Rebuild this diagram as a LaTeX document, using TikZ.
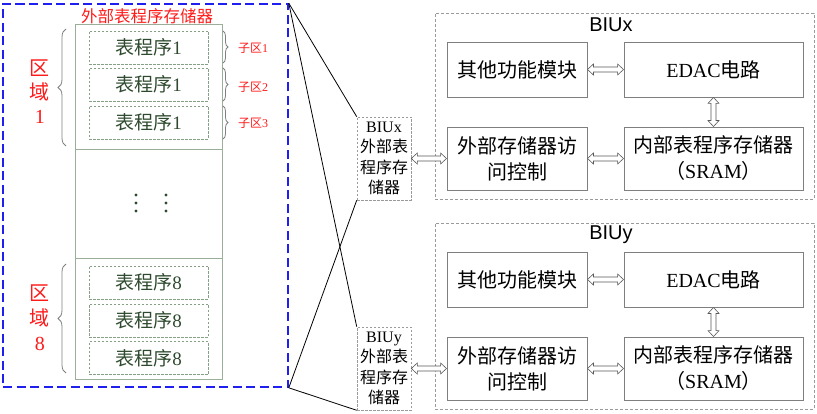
\documentclass[tikz,border=0pt]{standalone}
\usepackage{fontspec}
\setmainfont{Liberation Serif}
\newfontfamily\cjk{Noto Sans CJK SC}
\newfontfamily\arialf{Liberation Sans}
\usetikzlibrary{calc,decorations.pathreplacing}
\newcommand{\zh}[1]{{\cjk #1}}
\definecolor{bluedash}{HTML}{1F1FF0}
\definecolor{memgreen}{HTML}{9AAE9A}
\definecolor{subgreen}{HTML}{86A086}
\definecolor{txtgreen}{HTML}{2E4A2E}
\definecolor{redtxt}{HTML}{FF1A1A}
\definecolor{boxgrey}{HTML}{7F7F7F}
\definecolor{dashgrey}{HTML}{9A9A9A}
\begin{document}
\begin{tikzpicture}[x=1pt,y=-1pt,
  memboxst/.style={draw=memgreen, line width=0.8pt, minimum width=147pt, minimum height=355pt, inner sep=0pt},
  subbox/.style={draw=subgreen, dashed, dash pattern=on 2.5pt off 1.5pt, line width=0.6pt, minimum width=119pt, minimum height=33pt, inner sep=0pt, text=txtgreen, font=\fontsize{19}{22}\selectfont},
  redlab/.style={text=redtxt, align=center},
  smallbiu/.style={draw=dashgrey, dashed, dash pattern=on 2.5pt off 1.5pt, line width=0.6pt, minimum width=54pt, minimum height=83pt, inner sep=0pt, align=center, font=\fontsize{16}{20.5}\selectfont},
  biuouter/.style={draw=dashgrey, dashed, dash pattern=on 3pt off 2pt, line width=0.6pt, minimum width=379pt, minimum height=186pt, inner sep=0pt},
  rbox/.style={draw=boxgrey, line width=0.9pt, inner sep=0pt, align=center, font=\fontsize{20}{26}\selectfont},
  gbrace/.style={draw=boxgrey, line width=0.8pt, decorate, decoration={brace, amplitude=#1}},
  harrow/.style={draw=black!65, fill=white, line width=0.6pt, to path={let \p1=(\tikztostart), \p2=(\tikztotarget) in
     (\x1,\y1) -- (\x1+6pt,\y1+5.5pt) -- (\x1+6pt,\y1+2.5pt) -- (\x2-6pt,\y1+2.5pt) -- (\x2-6pt,\y1+5.5pt) -- (\x2,\y1)
     -- (\x2-6pt,\y1-5.5pt) -- (\x2-6pt,\y1-2.5pt) -- (\x1+6pt,\y1-2.5pt) -- (\x1+6pt,\y1-5.5pt) -- cycle}},
  varrow/.style={draw=black!65, fill=white, line width=0.6pt, to path={let \p1=(\tikztostart), \p2=(\tikztotarget) in
     (\x1,\y1) -- (\x1+5.5pt,\y1-6pt) -- (\x1+2.5pt,\y1-6pt) -- (\x1+2.5pt,\y2+6pt) -- (\x1+5.5pt,\y2+6pt) -- (\x1,\y2)
     -- (\x1-5.5pt,\y2+6pt) -- (\x1-2.5pt,\y2+6pt) -- (\x1-2.5pt,\y1-6pt) -- (\x1-5.5pt,\y1-6pt) -- cycle}}
]
\useasboundingbox (0,0) rectangle (817,414);

% external memory
\node[draw=bluedash, line width=1.6pt, dashed, dash pattern=on 9pt off 4.5pt, minimum width=285pt, minimum height=383pt, inner sep=0pt] (ext) at (145.5,195.5) {};
\node[redlab, font=\fontsize{16.5}{18}\selectfont] (title) at (147,16) {\zh{外部表程序存储器}};
\node[memboxst] (mem) at (148.5,201.5) {};
\draw[memgreen, line width=0.8pt] (mem.west |- 0,149) coordinate (s1a) -- (mem.east |- 0,149) coordinate (s1b);
\draw[memgreen, line width=0.8pt] (mem.west |- 0,258) coordinate (s2a) -- (mem.east |- 0,258) coordinate (s2b);

\node[subbox] (p11) at (148.5,47.5) {\zh{表程序}1};
\node[subbox] (p12) at (148.5,84.5) {\zh{表程序}1};
\node[subbox] (p13) at (148.5,122.5) {\zh{表程序}1};
\node[subbox] (p81) at (148.5,282.5) {\zh{表程序}8};
\node[subbox] (p82) at (148.5,320.5) {\zh{表程序}8};
\node[subbox] (p83) at (148.5,358) {\zh{表程序}8};

% dots
\foreach \yy in {195,203,211}{
  \fill[txtgreen] (136,\yy) circle (1.7pt);
  \fill[txtgreen] (166,\yy) circle (1.7pt);
}

% braces
\draw[gbrace=8pt] (66,146) -- (66,29);
\draw[gbrace=8pt] (66,373) -- (66,264);
\draw[gbrace=5pt] (223,31) -- (223,63);
\draw[gbrace=5pt] (223,68) -- (223,101);
\draw[gbrace=5pt] (223,106) -- (223,139);

\node[redlab, font=\fontsize{20}{24}\selectfont] (r1) at (40,92) {\zh{区}\\\zh{域}\\1};
\node[redlab, font=\fontsize{20}{25}\selectfont] (r8) at (40,318) {\zh{区}\\\zh{域}\\8};
\node[redlab, font=\fontsize{12}{14}\selectfont] (z1) at (253,48) {\zh{子区}1};
\node[redlab, font=\fontsize{12}{14}\selectfont] (z2) at (253,87) {\zh{子区}2};
\node[redlab, font=\fontsize{12}{14}\selectfont] (z3) at (253,123) {\zh{子区}3};

% small BIU memory boxes
\node[smallbiu] (bx) at (384,158.5) {BIUx\\\zh{外部表}\\\zh{程序存}\\\zh{储器}};
\node[smallbiu] (by) at (384,368.5) {BIUy\\\zh{外部表}\\\zh{程序存}\\\zh{储器}};

\draw[black, line width=0.8pt] (ext.north east) -- (bx.north west);
\draw[black, line width=0.8pt] (ext.north east) -- (by.north west);
\draw[black, line width=0.8pt] (ext.south east) -- (bx.south west);
\draw[black, line width=0.8pt] (ext.south east) -- (by.south west);

% BIUx
\node[biuouter] (ux) at (624.5,106) {};
\node[font=\arialf\fontsize{20}{22}\selectfont] (uxt) at (611,25) {BIUx};
\node[rbox, minimum width=140pt, minimum height=55pt] (xa) at (517,69.5) {\zh{其他功能模块}};
\node[rbox, minimum width=179pt, minimum height=55pt] (xb) at (713.5,69.5) {EDAC\zh{电路}};
\node[rbox, minimum width=140pt, minimum height=63pt] (xc) at (517,158.5) {\zh{外部存储器访}\\\zh{问控制}};
\node[rbox, minimum width=179pt, minimum height=63pt] (xd) at (713.5,158.5) {\zh{内部表程序存储器}\\\zh{（}SRAM\zh{）}};
\draw[harrow] (bx.east) to (xc.west);
\draw[harrow] (xa.east) to (xb.west);
\draw[harrow] (xc.east) to (xd.west);
\draw[varrow] (xb.south) to (xd.north);

% BIUy
\node[biuouter] (uy) at (624.5,316) {};
\node[font=\arialf\fontsize{20}{22}\selectfont] (uyt) at (611,235) {BIUy};
\node[rbox, minimum width=140pt, minimum height=55pt] (ya) at (517,279.5) {\zh{其他功能模块}};
\node[rbox, minimum width=179pt, minimum height=55pt] (yb) at (713.5,279.5) {EDAC\zh{电路}};
\node[rbox, minimum width=140pt, minimum height=63pt] (yc) at (517,368.5) {\zh{外部存储器访}\\\zh{问控制}};
\node[rbox, minimum width=179pt, minimum height=63pt] (yd) at (713.5,368.5) {\zh{内部表程序存储器}\\\zh{（}SRAM\zh{）}};
\draw[harrow] (by.east) to (yc.west);
\draw[harrow] (ya.east) to (yb.west);
\draw[harrow] (yc.east) to (yd.west);
\draw[varrow] (yb.south) to (yd.north);
\end{tikzpicture}
\end{document}
